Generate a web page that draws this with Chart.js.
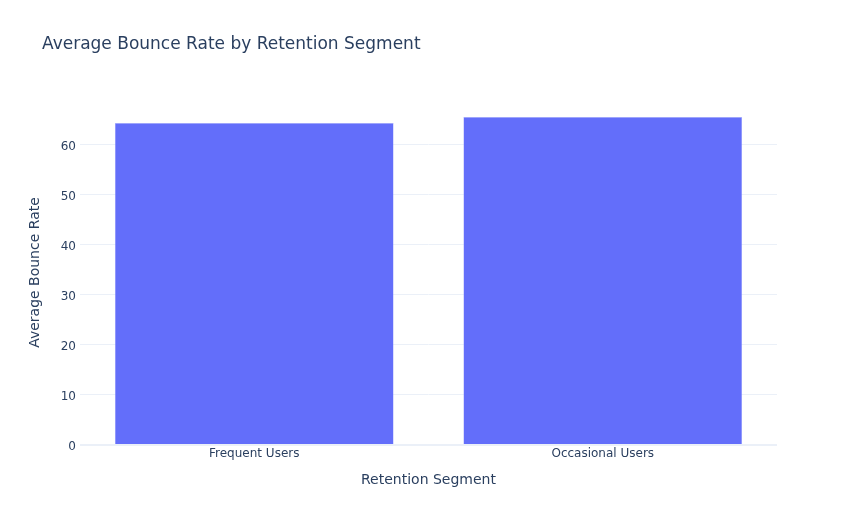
<!DOCTYPE html>
<html>
<head>
<meta charset="utf-8">
<script src="https://cdn.jsdelivr.net/npm/chart.js@4/dist/chart.umd.min.js"></script>
<style>
  html, body { margin: 0; padding: 0; background: #fff; }
  #wrap { width: 857px; height: 525px; }
</style>
</head>
<body>
<div id="wrap"><canvas id="bounceChart" width="857" height="525"></canvas></div>
<script>
const segments = ["Frequent Users", "Occasional Users"];
const avgBounceRate = [64.3, 65.5];
const yTicks = [0, 10, 20, 30, 40, 50, 60];

const titleText = "Average Bounce Rate by Retention Segment";
const fontFamily = "'DejaVu Sans', Verdana, sans-serif";
const textColor = "#2a3f5f";

// plotly-style title, drawn at the top left of the figure
const plotTitle = {
    id: "plotTitle",
    afterDraw(chart) {
        const ctx = chart.ctx;
        ctx.save();
        ctx.font = "17px " + fontFamily;
        ctx.fillStyle = textColor;
        ctx.textAlign = "left";
        ctx.textBaseline = "middle";
        ctx.fillText(titleText, 42, 45);
        ctx.restore();
    }
};

const ctx = document.getElementById("bounceChart").getContext("2d");

new Chart(ctx, {
    type: "bar",
    data: {
        labels: segments,
        datasets: [{
            label: "Average Bounce Rate",
            data: avgBounceRate,
            backgroundColor: "#636efa",
            borderColor: "#b8bdfc",
            borderWidth: 0.5,
            categoryPercentage: 0.8,
            barPercentage: 1.0
        }]
    },
    options: {
        responsive: false,
        animation: false,
        layout: { padding: { top: 100, right: 80, bottom: 0, left: 0 } },
        plugins: {
            legend: { display: false },
            tooltip: { enabled: false }
        },
        scales: {
            x: {
                grid: { display: false, drawTicks: false },
                border: { display: false },
                ticks: { color: textColor, font: { family: fontFamily, size: 12 }, padding: 2 },
                title: {
                    display: true,
                    text: "Retention Segment",
                    color: textColor,
                    font: { family: fontFamily, size: 14 },
                    padding: { top: 0, bottom: 36 }
                },
                afterFit(scale) { scale.height = 80; }
            },
            y: {
                min: 0,
                max: 68.9,
                afterBuildTicks(scale) {
                    scale.ticks = yTicks.map(v => ({ value: v }));
                },
                grid: {
                    color: "#ebf0f8",
                    lineWidth: c => (c.tick && c.tick.value === 0 ? 2 : 1),
                    drawTicks: false
                },
                border: { display: false },
                ticks: { color: textColor, font: { family: fontFamily, size: 12 }, padding: 4, labelOffset: 2 },
                title: {
                    display: true,
                    text: "Average Bounce Rate",
                    color: textColor,
                    font: { family: fontFamily, size: 14 },
                    padding: { top: 27, bottom: 0 }
                },
                afterFit(scale) { scale.width = 80; }
            }
        }
    },
    plugins: [plotTitle]
});
</script>
</body>
</html>
